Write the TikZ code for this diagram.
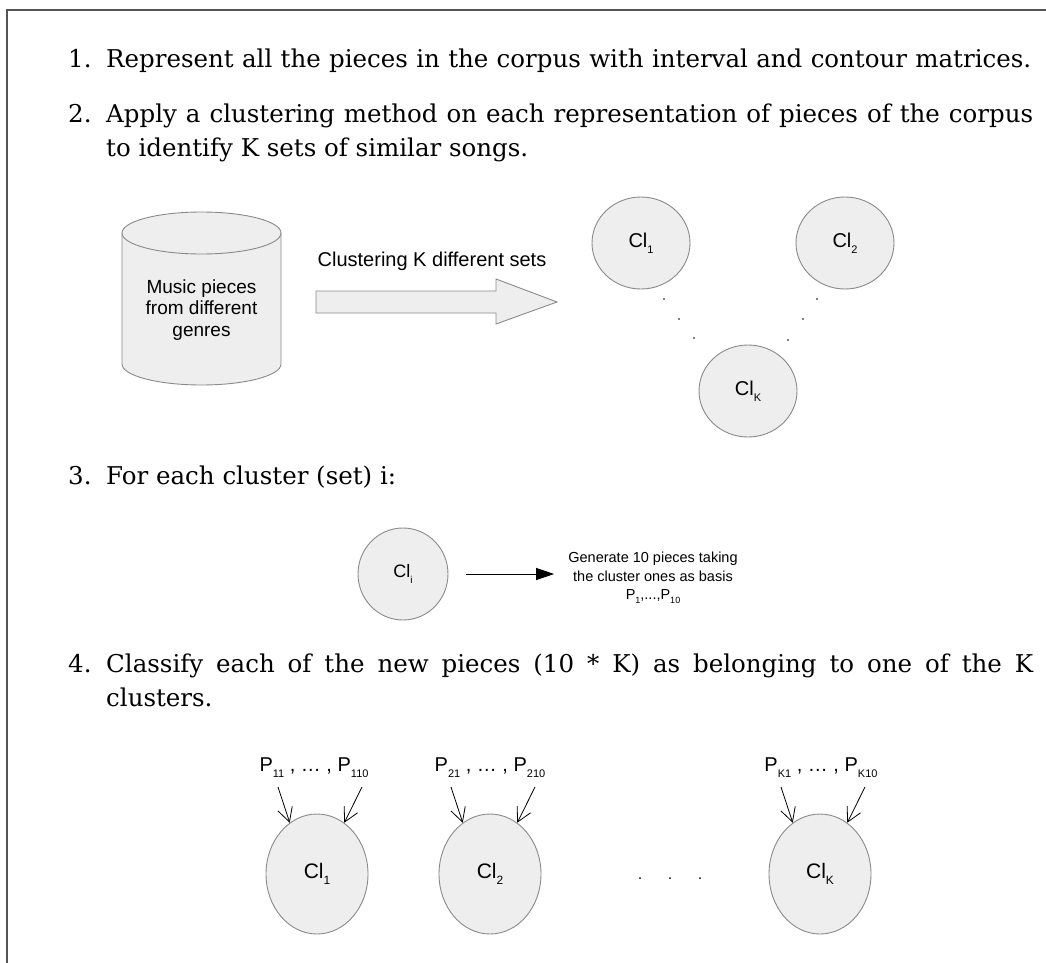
\documentclass[tikz,border=0pt]{standalone}
\usepackage{fontspec}
\setmainfont{DejaVu Serif}
\newfontfamily\arial{Liberation Sans}
\usetikzlibrary{shapes.geometric,arrows.meta}
\definecolor{boxgray}{HTML}{EEEEEE}
\definecolor{edgegray}{HTML}{8A8A8A}
\definecolor{framegray}{HTML}{555555}
% lowered small index used in the cluster and piece labels
\newcommand\lsub[2][11]{\raisebox{-0.55ex}{\fontsize{#1}{#1}\selectfont #2}}
\begin{document}
\begin{tikzpicture}[x=1pt,y=-1pt,
  body/.style={anchor=base west, inner sep=0pt, font=\fontsize{24.5}{28}\selectfont},
  shade/.style={fill=boxgray, draw=edgegray, line width=0.9pt},
  clus/.style={shade, ellipse, inner sep=0pt, minimum width=98pt, minimum height=92pt,
    font=\arial\fontsize{20}{22}\selectfont},
  bigclus/.style={clus, minimum width=102pt, minimum height=120pt, font=\arial\fontsize{21}{22}\selectfont},
  sans/.style={inner sep=0pt, font=\arial\fontsize{19}{21.5}\selectfont},
  plabel/.style={inner sep=0pt, font=\arial\fontsize{20}{22}\selectfont},
  dot/.style={circle, fill=black, inner sep=0pt, minimum size=1.6pt},
  pin/.style={draw=black, line width=0.8pt, -{Straight Barb[length=14pt,width=15pt,line width=0.8pt]}},
  frame/.style={draw=framegray, line width=1.6pt},
]
\useasboundingbox (0,0) rectangle (1046,963);
\draw[frame] (7,963) -- (7,10) -- (1046,10);

% ---- step texts
\node[body] (n1) at (68,68) {1.};
\node[body] (t1) at (106,68) {\makebox[925pt][s]{Represent all the pieces in the corpus with interval and contour matrices.}};
\node[body] (n2) at (68,123) {2.};
\node[body] (t2a) at (106,123) {\makebox[927pt][s]{Apply a clustering method on each representation of pieces of the corpus}};
\node[body] (t2b) at (106,157) {to identify K sets of similar songs.};

% ---- step 2 figure
\draw[shade] (122,233) -- (122,364) arc[start angle=180, end angle=360, x radius=79.5pt, y radius=21pt]
  -- (281,233);
\draw[shade] (201.5,233) ellipse[x radius=79.5pt, y radius=21pt];
\node[sans, align=center] (db) at (201.5,310) {Music pieces\\from different\\genres};

\draw[shade, line join=miter] (316,291) -- (496,291) -- (496,279) -- (557,302) -- (496,324) -- (496,313) -- (316,313) -- cycle;
\node[sans, font=\arial\fontsize{20}{22}\selectfont] (clt) at (432,261) {Clustering K different sets};

\node[clus] (c1) at (641,243) {Cl\lsub{1}};
\node[clus] (c2) at (845,243) {Cl\lsub{2}};
\node[clus] (ck) at (748,391) {Cl\lsub{K}};
\foreach \x/\y [count=\i] in {664/299, 679/319, 694/338, 817/299, 803/319, 788/340}
  \node[dot] (d\i) at (\x,\y) {};

% ---- step 3
\node[body] (n3) at (68,484) {3.};
\node[body] (t3) at (106,484) {For each cluster (set) i:};
\node[clus, minimum width=90pt, minimum height=92pt, font=\arial\fontsize{18}{20}\selectfont] (ci) at (403,574) {Cl\lsub[10]{i}};
\node[inner sep=0pt, align=center, font=\arial\fontsize{14.5}{18.5}\selectfont] (gen) at (653,578)
  {Generate 10 pieces taking\\the cluster ones as basis\\P\lsub[9]{1},...,P\lsub[9]{10}};
\draw[line width=0.9pt, -{Triangle[length=18pt,width=12pt]}] ([xshift=18pt]ci.east) -- ([xshift=-14pt]ci.east -| gen.west);

% ---- step 4
\node[body] (n4) at (68,672) {4.};
\node[body] (t4a) at (106,672) {\makebox[927pt][s]{Classify each of the new pieces (10 * K) as belonging to one of the K}};
\node[body] (t4b) at (106,706) {clusters.};

\node[bigclus] (b1) at (317,874) {Cl\lsub[12]{1}};
\node[bigclus] (b2) at (490,874) {Cl\lsub[12]{2}};
\node[bigclus] (bk) at (820,874) {Cl\lsub[12]{K}};
\node[dot, minimum size=2pt] (e1) at (640,878) {};
\node[dot, minimum size=2pt] (e2) at (670,878) {};
\node[dot, minimum size=2pt] (e3) at (700,878) {};

\node[plabel] (p1) at (314,768) {P\lsub{11} , … , P\lsub{110}};
\node[plabel] (p2) at (490,768) {P\lsub{21} , … , P\lsub{210}};
\node[plabel] (pk) at (821,768) {P\lsub{K1} , … , P\lsub{K10}};

\foreach \c in {b1,b2,bk} {
  \coordinate (\c l) at ([xshift=-39pt]\c.north |- 0,787);
  \coordinate (\c r) at ([xshift=45pt]\c.north |- 0,787);
  \draw[pin] (\c l) -- (\c.118);
  \draw[pin] (\c r) -- (\c.62);
}
\end{tikzpicture}
\end{document}
